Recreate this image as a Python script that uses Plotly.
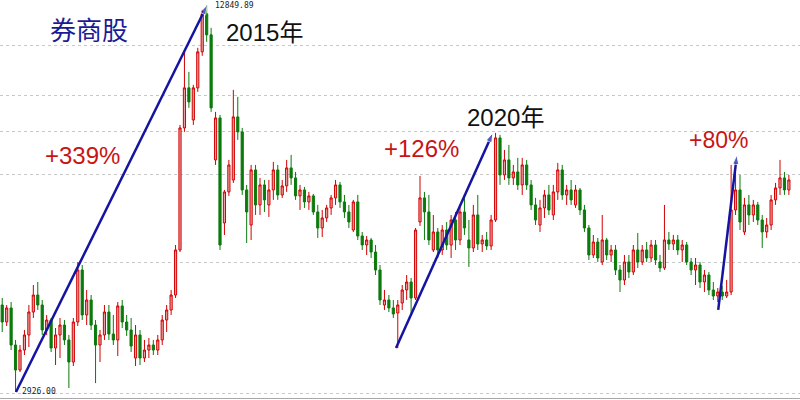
import plotly.graph_objects as go

# weekly candles, index points (log scale)
opens = [4082, 3825, 4036, 3503, 3183, 3436, 3640, 3974, 4241, 4082,
         3710, 3854, 3463, 3640, 3781, 3571, 3282, 3825, 4667, 3929,
         4161, 3781, 3503, 3640, 3974, 3653, 3571, 4067, 3825, 3710,
         3333, 3640, 3333, 3436, 3503, 3436, 3571, 3854, 4005, 4241,
         5038, 8034, 9364, 8284, 9364, 10747, 12428, 11469, 7109, 8348,
         5586, 6290, 6585, 8380, 7913, 6338, 5543, 6842, 5985, 6461,
         5985, 6338, 6842, 6218, 6436, 6895, 6636, 6195, 6338, 6054,
         6195, 5826, 5480, 5694, 5916, 6148, 6461, 6054, 5826, 5438,
         6054, 5315, 5135, 5234, 4999, 4667, 4082, 4161, 4036, 3959,
         4113, 4323, 4457, 4193, 5607, 6148, 5826, 5038, 5397, 5038,
         5438, 5135, 5650, 5234, 5826, 5234, 5077, 5760, 5155, 5234,
         5116, 5650, 7733, 6712, 7109, 6636, 6790, 6461, 6974, 6461,
         5985, 5543, 5916, 6218, 5760, 6290, 6842, 6218, 6338, 5985,
         6338, 5871, 5480, 4943, 5194, 4812, 5234, 4943, 5038, 4667,
         4491, 4812, 4631, 5038, 4812, 5038, 4886, 5135, 4812, 4703,
         5234, 5155, 5234, 5038, 5135, 4812, 4667, 4757, 4457, 4578,
         4323, 4225, 4290, 4225, 4290, 5871, 6338, 5397, 5985, 5760,
         5985, 5650, 5397, 5543, 6101, 6387, 6636, 6338]
highs = [4193, 4082, 4129, 3571, 3503, 3710, 4082, 4406, 4457, 4161,
         3929, 3884, 3738, 3884, 3854, 3640, 3884, 4812, 4757, 4323,
         4241, 3854, 3710, 4082, 4082, 3929, 4129, 4161, 3929, 3884,
         3781, 3710, 3571, 3598, 3571, 3640, 3929, 4082, 4323, 5135,
         8127, 10747, 9955, 9472, 10913, 12620, 12850, 11781, 8542, 8445,
         6338, 7109, 9293, 9047, 8034, 6461, 6974, 6974, 6636, 6585,
         6585, 7055, 6974, 6585, 7109, 7246, 6790, 6461, 6411, 6290,
         6242, 5985, 5871, 5985, 6218, 6585, 6535, 6218, 5985, 6101,
         6218, 5397, 5315, 5275, 5135, 4757, 4323, 4241, 4161, 4161,
         4406, 4578, 4526, 5480, 6687, 6290, 6218, 5760, 5480, 5543,
         5607, 5760, 5826, 5985, 6218, 5650, 5985, 6218, 5336, 5397,
         5760, 7883, 7823, 7386, 7529, 6974, 7164, 7164, 7109, 6585,
         6148, 6101, 6338, 6461, 6461, 7028, 6974, 6461, 6585, 6461,
         6387, 5985, 5543, 5336, 5275, 5760, 5275, 5135, 5135, 4757,
         4943, 4943, 5135, 5376, 5135, 5194, 5234, 5234, 4943, 5985,
         5397, 5336, 5336, 5234, 5194, 4886, 4886, 4812, 4667, 4631,
         4457, 4356, 4390, 4491, 6974, 7028, 6712, 6148, 6218, 6101,
         6054, 5760, 5694, 6218, 6510, 7109, 6790, 6712]
lows = [3681, 3767, 3436, 2926, 3159, 3371, 3476, 3884, 4005, 3640,
        3640, 3410, 3245, 3333, 3503, 2971, 3232, 3767, 3854, 3781,
        3710, 3028, 3282, 3571, 3571, 3503, 3359, 3738, 3626, 3410,
        3232, 3245, 3282, 3333, 3371, 3371, 3503, 3681, 3929, 4193,
        4999, 7913, 8674, 8127, 9222, 10584, 11166, 8542, 6974, 5038,
        5336, 6195, 6510, 7675, 6218, 5174, 5234, 5760, 5760, 5826,
        5716, 6101, 6101, 6148, 6290, 6461, 6101, 5871, 5916, 5871,
        5760, 5275, 5295, 5607, 5760, 5985, 5916, 5694, 5480, 5397,
        5234, 5038, 4943, 4886, 4578, 4082, 4005, 3974, 3884, 3463,
        4005, 4161, 3914, 4161, 5522, 5234, 5135, 4999, 4886, 4943,
        5038, 4886, 5038, 5135, 5336, 4721, 4999, 5038, 4999, 5038,
        5038, 5607, 6461, 6585, 6461, 6461, 6338, 6218, 6338, 5871,
        5543, 5397, 5694, 5760, 5650, 6101, 6101, 5985, 5985, 5916,
        5760, 5397, 4849, 4886, 4812, 4757, 4849, 4812, 4578, 4290,
        4406, 4526, 4578, 4703, 4757, 4812, 4812, 4757, 4631, 4667,
        5038, 5038, 4943, 4812, 4757, 4578, 4406, 4356, 4290, 4241,
        4161, 4129, 4161, 4193, 4241, 5760, 5438, 5336, 5543, 5607,
        5543, 5077, 5275, 5438, 5985, 6218, 6218, 6218]
closes = [3825, 4036, 3503, 3183, 3436, 3640, 3974, 4241, 4082, 3710,
          3854, 3463, 3640, 3781, 3571, 3282, 3825, 4667, 3929, 4161,
          3781, 3503, 3640, 3974, 3653, 3571, 4067, 3825, 3710, 3489,
          3640, 3333, 3436, 3503, 3436, 3571, 3854, 4005, 4241, 5038,
          8034, 9364, 8875, 9364, 10747, 12428, 11469, 8674, 8348, 5135,
          6290, 6974, 8380, 7913, 6338, 5826, 6842, 5985, 6461, 6101,
          6338, 6842, 6218, 6436, 6895, 6636, 6195, 6338, 6054, 6195,
          5826, 5480, 5694, 5916, 6148, 6461, 6054, 5826, 5607, 6054,
          5315, 5135, 5234, 4999, 4667, 4161, 4161, 4036, 3944, 4082,
          4323, 4457, 4193, 5438, 6148, 5826, 5234, 5397, 5038, 5438,
          5135, 5650, 5234, 5826, 5480, 5077, 5760, 5155, 5234, 5116,
          5650, 7733, 6712, 7109, 6636, 6790, 6461, 6974, 6461, 5985,
          5650, 5916, 6218, 5871, 6290, 6842, 6218, 6338, 6101, 6338,
          5871, 5480, 4943, 5194, 4886, 5234, 4943, 5038, 4667, 4491,
          4812, 4631, 5038, 4812, 5038, 4886, 5135, 4849, 4703, 5234,
          5155, 5234, 5038, 5135, 4812, 4667, 4757, 4457, 4578, 4323,
          4225, 4290, 4225, 4290, 5871, 6338, 5607, 5985, 5760, 5985,
          5650, 5397, 5543, 6101, 6387, 6636, 6338, 6585]
weeks = list(range(len(closes)))

# hand drawn trend arrows: start / end (x in candle index, y in index points)
arrow_x0 = [3.1, 88.6, 161.1]
arrow_y0 = [2926, 3463, 4005]
arrow_x1 = [46.1, 110.4, 165.3]
arrow_y1 = [12850, 7883, 7246]
gains = ['+339%', '+126%', '+80%']
years = ['2015年', '2020年']

grid_vals = [2915, 4811, 6735, 7939, 9110, 11028]

fig = go.Figure()
fig.add_trace(go.Candlestick(
    x=weeks, open=opens, high=highs, low=lows, close=closes,
    increasing=dict(line=dict(color='#d20000', width=1), fillcolor='#e9a2a2'),
    decreasing=dict(line=dict(color='#0b7a0b', width=1), fillcolor='#0b7a0b'),
    whiskerwidth=0, hoverinfo='skip', showlegend=False))

for x0, y0, x1, y1 in zip(arrow_x0, arrow_y0, arrow_x1, arrow_y1):
    fig.add_trace(go.Scatter(
        x=[x0, x1], y=[y0, y1], mode='lines+markers',
        line=dict(color='#1414a0', width=2.5),
        marker=dict(symbol='arrow', angleref='previous', size=[0, 10], color='#1414a0'),
        hoverinfo='skip', showlegend=False, cliponaxis=False))

H = 398.0


def py(y):
    return 1 - y / H


red = '#c81414'
txt_font = 'Liberation Sans, Noto Sans CJK SC, sans-serif'
labels = [
    ('券商股', 89, 31, 26, '#1a1a96'),
    (years[0], 264, 33, 24, '#111111'),
    (years[1], 506, 117, 24, '#111111'),
    (gains[0], 82, 156, 24, red),
    (gains[1], 421, 148, 24, red),
    (gains[2], 718, 140, 23, red),
]
for text, x, y, size, color in labels:
    fig.add_annotation(text=text, x=x / 800, y=py(y), xref='paper', yref='paper',
                       showarrow=False, xanchor='center', yanchor='middle',
                       font=dict(family=txt_font, size=size, color=color))

fig.add_annotation(text='12849.89', x=213 / 800, y=py(6), xref='paper', yref='paper',
                   showarrow=False, xanchor='left', yanchor='middle',
                   font=dict(family='DejaVu Sans Mono', size=8, color='#222222'))
fig.add_annotation(text='2926.00', x=20 / 800, y=py(391), xref='paper', yref='paper',
                   showarrow=False, xanchor='left', yanchor='middle',
                   font=dict(family='DejaVu Sans Mono', size=8, color='#222222'))

fig.update_layout(
    width=800, height=400,
    margin=dict(l=0, r=0, t=0, b=2, autoexpand=False),
    paper_bgcolor='white', plot_bgcolor='white')

fig.update_xaxes(range=[-0.5, 179.5], showgrid=False, showticklabels=False, ticks='',
                 zeroline=False, showline=True, linecolor='#a8a8a8', linewidth=1,
                 rangeslider=dict(visible=False))
fig.update_yaxes(type='log', range=[3.4564, 4.1174], tickvals=grid_vals,
                 showticklabels=False, ticks='', showgrid=True, gridcolor='#c8c8c8',
                 griddash='dot', gridwidth=1, zeroline=False, showline=False)

# the page's default body margin would push the chart 8px off the window
fig.write_html('out.html', config={'displayModeBar': False},
               post_script="document.body.style.margin='0';")
